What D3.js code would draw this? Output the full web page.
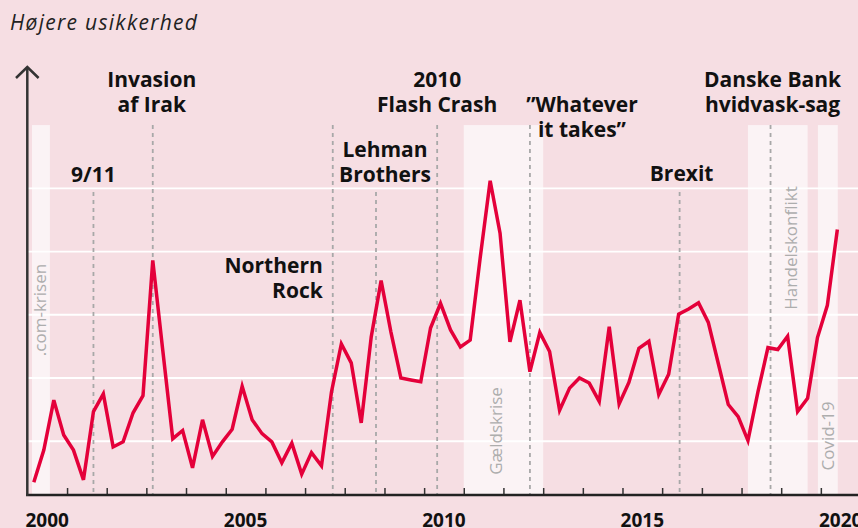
<!DOCTYPE html>
<html>
<head>
  <meta charset='utf-8'>
  <script src="https://d3js.org/d3.v7.min.js"></script>
  <style>
    body {
      margin: 0;
      background-color: #f6dee3;
    }
    text {
      font-family: 'Open Sans', sans-serif;
    }
  </style>
</head>
<body>
  <script type='text/javascript'>
    // Quarterly uncertainty index, 2000 Q1 - 2020 Q2
    var startYear = 2000;
    var values = [
      35, 86, 165, 110, 86, 39, 147, 175, 91, 99, 145, 172,
      386, 244, 104, 117, 58, 134, 76, 99, 119, 187, 134, 112,
      99, 66, 97, 48, 82, 61, 178, 254, 224, 129, 265, 354,
      273, 200, 197, 194, 279, 318, 276, 249, 260, 390, 512, 429,
      257, 323, 210, 272, 242, 149, 184, 200, 192, 163, 281, 159,
      193, 247, 258, 174, 206, 301, 309, 319, 288, 223, 158, 139,
      101, 178, 248, 245, 266, 147, 168, 264, 315, 435
    ];

    // Shaded crisis periods
    var bandNames = ['.com-krisen', 'Gældskrise', 'Handelskonflikt', 'Covid-19'];
    var bandStart = ['2000-02-13', '2011-01-01', '2018-03-01', '2019-12-05'];
    var bandEnd = ['2000-07-27', '2013-01-01', '2019-09-01', '2020-06-05'];

    // Events marked with dashed lines
    var eventNames = [['9/11'], ['Invasion', 'af Irak'], ['Northern', 'Rock'], ['Lehman', 'Brothers'],
      ['2010', 'Flash Crash'], ['\u201DWhatever', 'it takes\u201D'], ['Brexit'], ['Danske Bank', 'hvidvask-sag']];
    var eventDates = ['2001-09-01', '2003-03-01', '2007-09-13', '2008-10-15',
      '2010-05-01', '2012-09-01', '2016-06-10', '2018-09-25'];

    var gridValues = [100, 200, 300, 400, 500];
    var yearLabels = [2000, 2005, 2010, 2015, 2020];

    var width = 858, height = 528;
    var parse = d3.timeParse('%Y-%m-%d');

    var svg = d3.select('body')
      .append('svg')
      .attr('width', width)
      .attr('height', height);

    var x = d3.scaleTime()
      .domain([new Date(2000, 0, 1), new Date(2021, 0, 1)])
      .range([27.3, 860.6]);
    var y = d3.scaleLinear()
      .domain([15, 500])
      .range([495, 188.3]);

    var data = values.map(function(v, i) {
      return {date: new Date(startYear + Math.floor(i / 4), (i % 4) * 3 + 2, 1), value: v};
    });

    // Title
    svg.append('text')
      .attr('x', 10)
      .attr('y', 30)
      .attr('textLength', 187)
      .attr('lengthAdjust', 'spacing')
      .style('font-style', 'italic')
      .style('font-size', '21px')
      .style('fill', '#222')
      .text('Højere usikkerhed');

    // Bands
    svg.selectAll('rect.band')
      .data(bandNames)
      .enter().append('rect')
      .attr('class', 'band')
      .attr('x', function(d, i) { return x(parse(bandStart[i])); })
      .attr('width', function(d, i) { return x(parse(bandEnd[i])) - x(parse(bandStart[i])); })
      .attr('y', y(600))
      .attr('height', y(15) - y(600))
      .style('fill', '#fbf3f5');

    // Grid lines
    svg.selectAll('line.grid')
      .data(gridValues)
      .enter().append('line')
      .attr('x1', 28).attr('x2', width)
      .attr('y1', function(d) { return y(d); })
      .attr('y2', function(d) { return y(d); })
      .style('stroke', '#fff')
      .style('stroke-width', 1.8);

    // Band labels (vertical)
    var bandLabelY = [310, 431, 248, 436];
    var bandLabelDx = [-1, -7, 13, 0];
    svg.selectAll('text.band')
      .data(bandNames)
      .enter().append('text')
      .attr('transform', function(d, i) {
        var cx = (x(parse(bandStart[i])) + x(parse(bandEnd[i]))) / 2 + bandLabelDx[i];
        return 'translate(' + (cx + 6) + ',' + bandLabelY[i] + ') rotate(-90)';
      })
      .style('text-anchor', 'middle')
      .style('font-size', '17px')
      .style('fill', '#adadad')
      .text(function(d) { return d; });

    // Event dashed lines
    var shortTop = [true, false, false, true, false, false, true, false];
    svg.selectAll('line.event')
      .data(eventDates)
      .enter().append('line')
      .attr('x1', function(d) { return x(parse(d)); })
      .attr('x2', function(d) { return x(parse(d)); })
      .attr('y1', function(d, i) { return shortTop[i] ? y(494) : y(600); })
      .attr('y2', y(15))
      .style('stroke', '#a8a8a8')
      .style('stroke-width', 1.8)
      .style('stroke-dasharray', '4,4');

    // Event labels
    var labelDx = [0, -1, -10, 9, 0, 52, 2, 2];
    var labelY = [182, 87, 273, 157, 87, 112, 181, 87];
    var labelAnchor = ['middle', 'middle', 'end', 'middle', 'middle', 'middle', 'middle', 'middle'];
    eventNames.forEach(function(lines, i) {
      var t = svg.append('text')
        .attr('x', x(parse(eventDates[i])) + labelDx[i])
        .attr('y', labelY[i])
        .style('text-anchor', labelAnchor[i])
        .style('font-size', '21px')
        .style('font-weight', 'bold')
        .style('fill', '#111');
      lines.forEach(function(l, j) {
        t.append('tspan')
          .attr('x', x(parse(eventDates[i])) + labelDx[i])
          .attr('dy', j === 0 ? 0 : 25)
          .text(l);
      });
    });

    // Line
    var line = d3.line()
      .x(function(d) { return x(d.date); })
      .y(function(d) { return y(d.value); });
    svg.append('path')
      .datum(data)
      .attr('d', line)
      .style('fill', 'none')
      .style('stroke', '#e4003a')
      .style('stroke-width', 3.5);

    // X axis with inward ticks
    var xAxis = d3.axisTop(x)
      .ticks(d3.timeYear.every(1))
      .tickSize(7)
      .tickFormat('');
    var gx = svg.append('g')
      .attr('transform', 'translate(0,' + y(15) + ')')
      .call(xAxis);
    gx.select('.domain').remove();
    gx.selectAll('.tick line').style('stroke', '#333').style('stroke-width', 1.5);
    gx.selectAll('.tick').filter(function(d) { return d.getFullYear() === 2000; }).remove();
    svg.append('line')
      .attr('x1', 26).attr('x2', width)
      .attr('y1', y(15)).attr('y2', y(15))
      .style('stroke', '#222')
      .style('stroke-width', 2.5);

    // Year labels, centred in the year
    svg.selectAll('text.year')
      .data(yearLabels)
      .enter().append('text')
      .attr('x', function(d) { return (x(new Date(d, 0, 1)) + x(new Date(d + 1, 0, 1))) / 2; })
      .attr('y', 527)
      .style('text-anchor', 'middle')
      .style('font-size', '19px')
      .style('font-weight', 'bold')
      .style('fill', '#111')
      .text(function(d) { return d; });

    // Y axis arrow
    svg.append('line')
      .attr('x1', 27.3).attr('x2', 27.3)
      .attr('y1', y(15) + 1).attr('y2', 67)
      .style('stroke', '#333')
      .style('stroke-width', 2.5);
    svg.append('path')
      .attr('d', 'M16,78 L27.3,67 L38.6,78')
      .style('fill', 'none')
      .style('stroke', '#333')
      .style('stroke-width', 2.5);
  </script>
</body>
</html>
